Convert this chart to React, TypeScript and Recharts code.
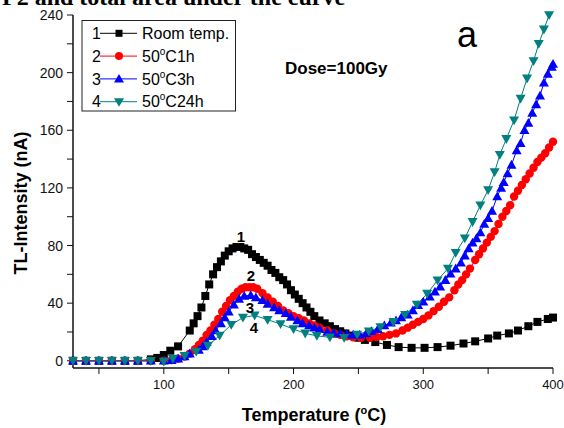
import React from 'react';
import { LineChart, Line, XAxis, YAxis } from 'recharts';

// Temperature (°C), TL-Intensity (nA)
const roomTemp: [number, number][] = [
  [30, 0], [40, 0], [50, 0], [60, 0], [70, 0], [80, 0], [90, 1], [95, 2], [100, 4], [105, 7], [111, 10],
  [120, 21], [123, 26], [126, 31], [129, 37], [132, 45], [135, 53], [138, 60], [141, 65], [144, 69],
  [147, 73], [150, 76], [153, 78], [156, 79], [159, 79], [162, 78], [165, 77], [168, 74], [171, 72],
  [174, 70], [177, 68], [180, 66], [183, 63], [186, 61], [189, 58], [192, 56], [195, 53], [198, 49],
  [201, 46], [204, 43], [207, 40], [210, 37], [213, 34], [216, 31], [220, 28], [224, 26], [228, 24],
  [232, 22], [236, 20.5], [240, 19], [245, 17.5], [250, 16], [255, 14.5], [263, 13], [272, 11],
  [281, 9.5], [291, 9], [301, 9], [311, 9.5], [321, 10.5], [331, 12], [340, 13.5], [350, 15.5],
  [357, 17.5], [366, 19], [373, 21], [381, 24], [388, 27], [396, 29], [400, 30],
];

const c50_1h: [number, number][] = [
  [30, 0], [40, 0], [50, 0], [60, 0], [70, 0], [80, 0], [90, 0], [100, 0], [106, 0.5], [111, 1.5],
  [116, 3], [120, 5], [124, 8], [127, 11], [130, 14], [133, 18], [136, 21], [139, 25], [142, 29],
  [145, 34], [148, 38], [151, 42], [154, 45], [157, 48], [160, 50], [163, 51], [166, 51], [169, 51],
  [172, 50], [176, 47], [180, 44], [184, 41], [188, 38], [192, 35], [196, 33], [200, 31], [204, 29.5],
  [208, 28], [212, 26], [216, 24.5], [220, 23], [226, 21], [231, 19.2], [236, 18], [241, 17],
  [246, 16.3], [252, 16], [259, 16], [264, 16.5], [269, 17], [274, 18], [279, 19], [284, 21],
  [288, 23], [292, 25], [296, 27], [300, 29], [304, 31.5], [308, 34.5], [312, 37.5], [316, 41],
  [320, 44], [324, 49], [327, 53], [330, 56], [333, 60], [336, 64], [340, 70], [343, 74], [346, 78],
  [349, 82], [352, 86], [355, 90], [358, 95], [361, 100], [364, 104], [367, 108], [370, 114],
  [373, 118], [376, 122], [379, 126], [382, 130], [385, 134], [388, 138], [391, 141], [394, 144],
  [397, 148], [400, 152],
];

const c50_3h: [number, number][] = [
  [30, 0], [40, 0], [50, 0], [60, 0], [70, 0], [80, 0], [90, 0], [100, 0], [106, 0.5], [111, 1.5],
  [116, 3], [120, 5], [127, 7.5], [130, 10], [133, 13], [137, 17], [140, 21], [144, 26], [147, 30],
  [150, 34], [154, 39], [158, 43], [162, 45], [167, 45.5], [171, 44], [176, 42], [180, 39.5],
  [185, 37], [189, 35], [194, 33], [198, 30.5], [203, 28], [207, 26], [212, 24.5], [216, 23],
  [220, 22], [226, 20], [231, 19.5], [236, 19], [241, 18.5], [246, 18], [251, 18], [256, 19],
  [260, 20.5], [265, 22], [270, 24.5], [275, 26.5], [279, 28], [283, 30], [288, 32], [292, 35],
  [296, 38.5], [300, 41], [305, 44.5], [309, 48], [313, 51.5], [317, 56], [321, 60.5], [325, 64],
  [329, 68], [332, 73], [335, 78], [338, 82], [341, 85], [344, 89], [347, 95], [350, 99], [353, 104],
  [357, 114], [360, 120], [362, 124], [365, 130], [368, 136], [372, 146], [375, 151], [378, 160],
  [381, 165], [384, 172], [387, 178], [390, 184], [393, 193], [396, 199], [399, 204], [400, 206],
];

const c50_24h: [number, number][] = [
  [30, 0], [40, 0], [50, 0], [60, 0], [70, 0], [80, 0], [90, 0], [100, -0.5], [107, 1.5], [116, 3.5],
  [125, 6.5], [134, 10.5], [143, 17.5], [152, 25], [161, 30], [170, 31.5], [180, 28.5], [190, 25.5],
  [200, 22], [209, 19], [218, 17.3], [228, 16.3], [239, 16], [249, 18.3], [258, 20.5], [267, 23.4],
  [277, 27], [286, 32], [295, 39], [303, 46.6], [311, 55.9], [319, 64], [325, 75], [332, 85],
  [338, 96.4], [344, 108], [350, 118.5], [355, 131], [359, 143], [364, 154], [370, 167], [375, 182],
  [380, 196], [385, 208], [389, 220], [393, 230], [397, 240],
];

const xTicks = [50, 100, 150, 200, 250, 300, 350, 400];
const yTicks = [0, 20, 40, 60, 80, 100, 120, 140, 160, 180, 200, 220, 240];

const seriesNames = ['Room temp.', '50', '50', '50'];
const seriesSuffix = ['', 'C1h', 'C3h', 'C24h'];

const FONT = '"Liberation Sans", Arial, Helvetica, sans-serif';
const BLACK = '#000000';
const RED = '#ff0000';
const BLUE = '#0000ff';
const TEAL = '#008080';

const rows = (pts: [number, number][]) => pts.map(([t, v]) => ({ t, v }));

const SquareDot = (p: any) => {
  const { cx, cy, index } = p;
  if (cx == null || cy == null) return <g key={`s${index}`} />;
  return <rect key={`s${index}`} x={cx - 4} y={cy - 4} width={8} height={8} fill={BLACK} />;
};
const CircleDot = (p: any) => {
  const { cx, cy, index } = p;
  if (cx == null || cy == null) return <g key={`c${index}`} />;
  return <circle key={`c${index}`} cx={cx} cy={cy} r={4.2} fill={RED} />;
};
const UpDot = (p: any) => {
  const { cx, cy, index } = p;
  if (cx == null || cy == null) return <g key={`u${index}`} />;
  return <polygon key={`u${index}`} points={`${cx},${cy - 5} ${cx - 5},${cy + 3.8} ${cx + 5},${cy + 3.8}`} fill={BLUE} />;
};
const DownDot = (p: any) => {
  const { cx, cy, index } = p;
  if (cx == null || cy == null) return <g key={`d${index}`} />;
  return <polygon key={`d${index}`} points={`${cx - 5},${cy - 3.8} ${cx + 5},${cy - 3.8} ${cx},${cy + 5}`} fill={TEAL} />;
};

const legendMarker = (i: number, cx: number, cy: number) => {
  if (i === 0) return <rect x={cx - 3.5} y={cy - 3.5} width={7} height={7} fill={BLACK} />;
  if (i === 1) return <circle cx={cx} cy={cy} r={4} fill={RED} />;
  if (i === 2) return <polygon points={`${cx},${cy - 5} ${cx - 5},${cy + 3.5} ${cx + 5},${cy + 3.5}`} fill={BLUE} />;
  return <polygon points={`${cx - 5},${cy - 3.5} ${cx + 5},${cy - 3.5} ${cx},${cy + 5}`} fill={TEAL} />;
};

const colors = [BLACK, RED, BLUE, TEAL];

export default function App() {
  return (
    <div style={{ position: 'absolute', left: 0, top: 0, width: 564, height: 428, background: '#fff', overflow: 'hidden' }}>
      <LineChart width={564} height={428} margin={{ top: 15, right: 11, bottom: 0, left: 0 }}>
        <XAxis
          xAxisId="b"
          dataKey="t"
          type="number"
          domain={[30, 400]}
          ticks={xTicks}
          interval={0}
          tickFormatter={(v: number) => (v % 100 === 0 ? String(v) : '')}
          height={60}
          tickSize={6}
          tickMargin={6}
          axisLine={{ stroke: '#111', strokeWidth: 1.5 }}
          tickLine={{ stroke: '#111', strokeWidth: 1 }}
          tick={{ fill: '#111', fontSize: 13, fontFamily: FONT }}
        />
        <XAxis
          xAxisId="top"
          orientation="top"
          type="number"
          domain={[30, 400]}
          height={0}
          tick={false}
          tickLine={false}
          axisLine={{ stroke: '#555', strokeWidth: 1.5 }}
        />
        <YAxis
          yAxisId="l"
          type="number"
          domain={[-5, 240]}
          ticks={yTicks}
          interval={0}
          tickFormatter={(v: number) => (v % 40 === 0 ? String(v) : '')}
          width={73}
          tickSize={6}
          tickMargin={4}
          axisLine={{ stroke: '#111', strokeWidth: 1.5 }}
          tickLine={{ stroke: '#111', strokeWidth: 1 }}
          tick={{ fill: '#111', fontSize: 14, fontFamily: FONT }}
        />
        <YAxis
          yAxisId="r"
          orientation="right"
          type="number"
          domain={[-5, 240]}
          width={0}
          tick={false}
          tickLine={false}
          axisLine={{ stroke: '#111', strokeWidth: 1.5 }}
        />
        <Line xAxisId="b" yAxisId="l" data={rows(roomTemp)} dataKey="v" type="linear" stroke={BLACK} strokeWidth={1} dot={SquareDot} activeDot={false} isAnimationActive={false} />
        <Line xAxisId="b" yAxisId="l" data={rows(c50_1h)} dataKey="v" type="linear" stroke={RED} strokeWidth={1} dot={CircleDot} activeDot={false} isAnimationActive={false} />
        <Line xAxisId="b" yAxisId="l" data={rows(c50_3h)} dataKey="v" type="linear" stroke={BLUE} strokeWidth={1} dot={UpDot} activeDot={false} isAnimationActive={false} />
        <Line xAxisId="b" yAxisId="l" data={rows(c50_24h)} dataKey="v" type="linear" stroke={TEAL} strokeWidth={1} dot={DownDot} activeDot={false} isAnimationActive={false} />
      </LineChart>
      <svg width={564} height={428} style={{ position: 'absolute', left: 0, top: 0, pointerEvents: 'none' }}>
        <text x={2} y={4.5} fontFamily='"Liberation Serif", "Times New Roman", serif' fontWeight="bold" fontSize={24} fill="#000">
          P2 and total area under the curve
        </text>
        <rect x={82} y={20.5} width={153.5} height={90.5} fill="#fff" stroke="#222" strokeWidth={1} />
        {seriesNames.map((name, i) => {
          const cy = 33.3 + i * 22.8;
          return (
            <g key={i}>
              <line x1={100} x2={137} y1={cy} y2={cy} stroke={colors[i]} strokeWidth={1} />
              {legendMarker(i, 119, cy)}
              <text x={92} y={cy + 5.7} fontFamily={FONT} fontSize={16} fill="#000">{String(i + 1)}</text>
              {i === 0 ? (
                <text x={142} y={cy + 5.7} fontFamily={FONT} fontSize={16} fill="#000">{name}</text>
              ) : (
                <text x={142} y={cy + 5.7} fontFamily={FONT} fontSize={16} fill="#000">
                  {name}
                  <tspan fontSize={10} dy={-7}>o</tspan>
                  <tspan dy={7}>{seriesSuffix[i]}</tspan>
                </text>
              )}
            </g>
          );
        })}
        <text x={467} y={46.5} textAnchor="middle" fontFamily={FONT} fontSize={36} fill="#000">a</text>
        <text x={285} y={74} fontFamily={FONT} fontWeight="bold" fontSize={17} fill="#000">Dose=100Gy</text>
        <text x={241} y={241.5} textAnchor="middle" fontFamily={FONT} fontWeight="bold" fontSize={15} fill="#000">1</text>
        <text x={251} y={280.5} textAnchor="middle" fontFamily={FONT} fontWeight="bold" fontSize={15} fill="#000">2</text>
        <text x={250} y={312.5} textAnchor="middle" fontFamily={FONT} fontWeight="bold" fontSize={15} fill="#000">3</text>
        <text x={254} y={332.5} textAnchor="middle" fontFamily={FONT} fontWeight="bold" fontSize={15} fill="#000">4</text>
        <text transform="rotate(-90)" x={-203} y={26.5} textAnchor="middle" fontFamily={FONT} fontWeight="bold" fontSize={18} fill="#000">
          TL-Intensity (nA)
        </text>
        <text x={314} y={420.5} textAnchor="middle" fontFamily={FONT} fontWeight="bold" fontSize={18} fill="#000">
          Temperature (<tspan fontSize={11} dy={-7}>o</tspan><tspan dy={7}>C)</tspan>
        </text>
      </svg>
    </div>
  );
}
